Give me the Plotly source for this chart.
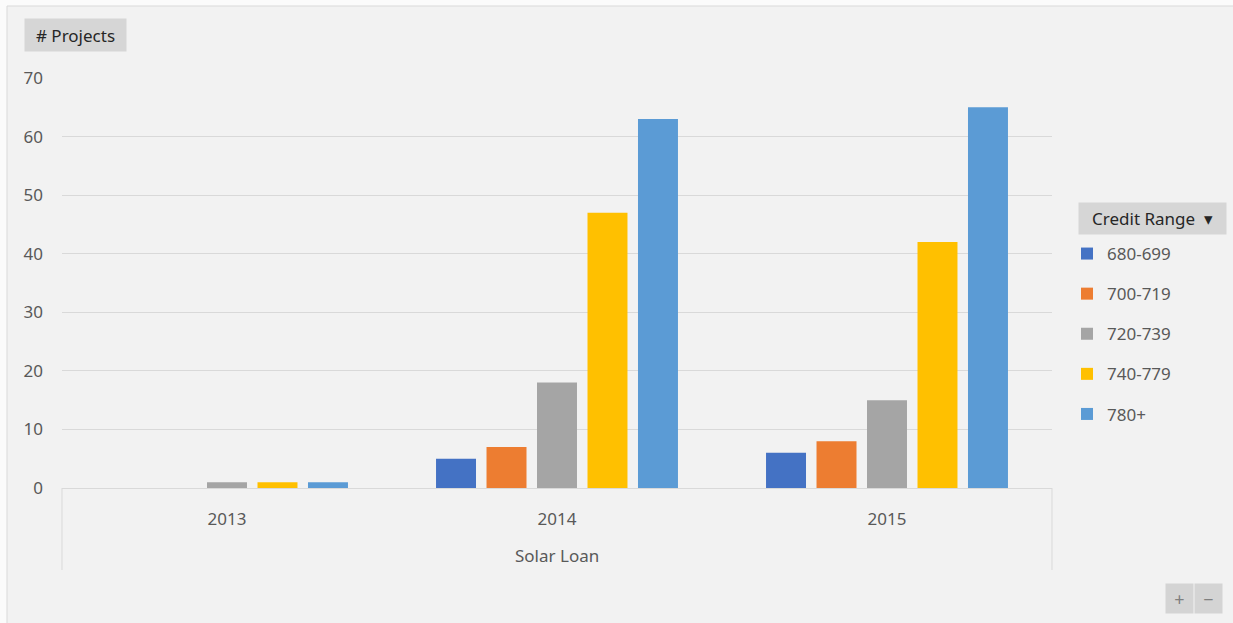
import plotly.graph_objects as go

years = ["2013", "2014", "2015"]
series_names = ["680-699", "700-719", "720-739", "740-779", "780+"]
v_680_699 = [0, 5, 6]
v_700_719 = [0, 7, 8]
v_720_739 = [1, 18, 15]
v_740_779 = [1, 47, 42]
v_780_plus = [1, 63, 65]
colors = ["#4472c4", "#ed7d31", "#a5a5a5", "#ffc000", "#5b9bd5"]
y_ticks = [0, 10, 20, 30, 40, 50, 60, 70]

values = [v_680_699, v_700_719, v_720_739, v_740_779, v_780_plus]

FONT = "Noto Sans"
TXT = "#595959"

fig = go.Figure()
for name, vals, col in zip(series_names, values, colors):
    fig.add_trace(go.Bar(
        x=years, y=vals, name=name, marker_color=col,
        marker_line_width=0, legendgroup=name,
    ))

W, H = 1233, 623
L, R, T, B = 62, 1052, 78, 488
pw, ph = R - L, B - T


def px(x):
    return (x - L) / pw


def py(y):
    return (B - y) / ph


shapes = [
    # chart background panel with border
    dict(type="rect", xref="paper", yref="paper", x0=px(7), x1=px(1240), y0=py(6), y1=py(630),
         fillcolor="#f2f2f2", line=dict(color="#d9d9d9", width=1), layer="below"),
    # category axis frame lines
    dict(type="line", xref="paper", yref="paper", x0=0, x1=0, y0=0, y1=py(570),
         line=dict(color="#d9d9d9", width=1)),
    dict(type="line", xref="paper", yref="paper", x0=1, x1=1, y0=0, y1=py(570),
         line=dict(color="#d9d9d9", width=1)),
]

annotations = [
    dict(text="Solar Loan", xref="paper", yref="paper", x=0.5, y=py(555), showarrow=False,
         font=dict(family=FONT, size=17, color=TXT), xanchor="center", yanchor="middle"),
    dict(text="# Projects", xref="paper", yref="paper", x=px(75.5), y=py(35), showarrow=False,
         font=dict(family=FONT, size=17, color="#262626"), bgcolor="#d6d6d6",
         width=99, height=30, xanchor="center", yanchor="middle"),
    dict(text="Credit Range  \u25BE", xref="paper", yref="paper", x=px(1152), y=py(218), showarrow=False,
         font=dict(family=FONT, size=17, color="#262626"), bgcolor="#d6d6d6",
         width=145, height=29, xanchor="center", yanchor="middle"),
    dict(text="+", xref="paper", yref="paper", x=px(1179.5), y=py(598.5), showarrow=False,
         font=dict(family=FONT, size=18, color="#7f7f7f"), bgcolor="#d4d4d4",
         width=25, height=27, xanchor="center", yanchor="middle"),
    dict(text="\u2212", xref="paper", yref="paper", x=px(1208.5), y=py(598.5), showarrow=False,
         font=dict(family=FONT, size=18, color="#7f7f7f"), bgcolor="#d4d4d4",
         width=25, height=27, xanchor="center", yanchor="middle"),
]

fig.update_layout(
    width=W, height=H,
    margin=dict(l=L, r=W - R, t=T, b=H - B, pad=0),
    paper_bgcolor="#fbfbfb",
    plot_bgcolor="#f2f2f2",
    barmode="group",
    bargap=0.235,
    bargroupgap=0.208,
    font=dict(family=FONT, size=17, color=TXT),
    showlegend=True,
    legend=dict(
        x=px(1067), y=py(236), xanchor="left", yanchor="top",
        bgcolor="rgba(0,0,0,0)", font=dict(family=FONT, size=17, color=TXT),
        tracegroupgap=15, itemclick=False, itemdoubleclick=False,
    ),
    xaxis=dict(
        type="category", categoryarray=years, showgrid=False, showline=True,
        linecolor="#d9d9d9", linewidth=1, ticks="", ticklabelstandoff=16,
        tickfont=dict(family=FONT, size=17, color=TXT), zeroline=False, fixedrange=True,
    ),
    yaxis=dict(
        range=[0, 70], tickvals=y_ticks, showgrid=True, gridcolor="#d9d9d9", gridwidth=1,
        zeroline=False, showline=False, ticks="", ticklabelstandoff=18,
        tickfont=dict(family=FONT, size=17, color=TXT), fixedrange=True,
    ),
    shapes=shapes,
    annotations=annotations,
)

fig.write_html("out.html")
